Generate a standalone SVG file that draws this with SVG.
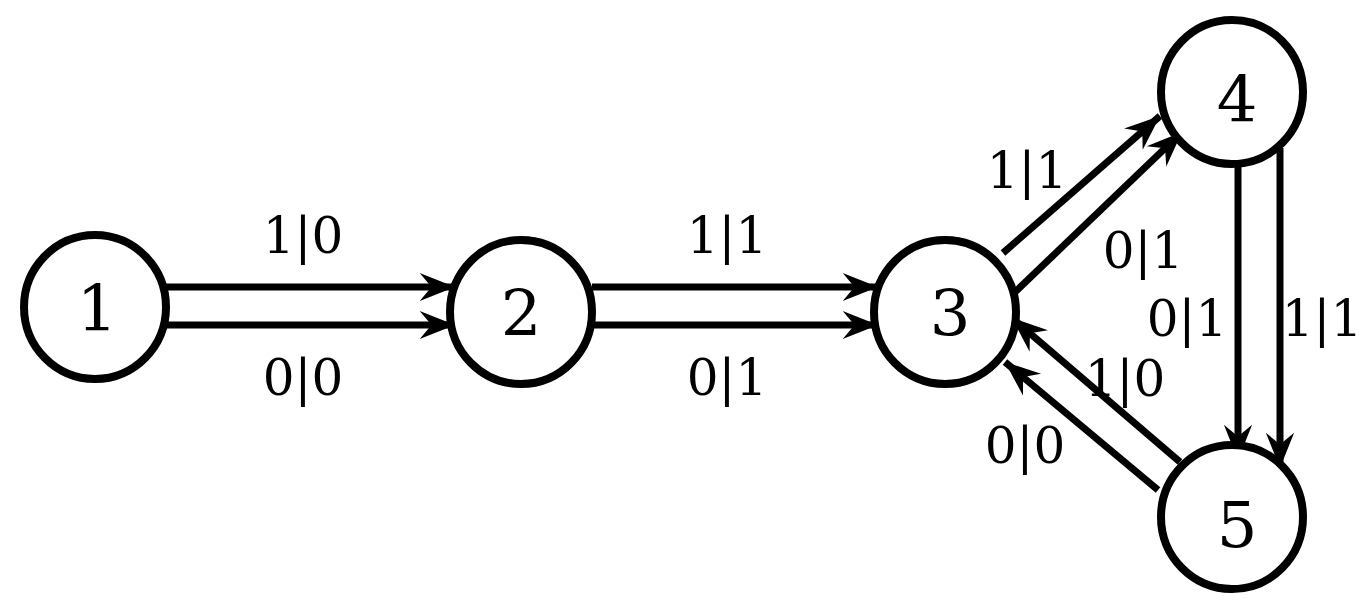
<svg xmlns="http://www.w3.org/2000/svg" width="1372" height="614" viewBox="0 0 1372 614">
<style>
.n{fill:#fff;stroke:#000;stroke-width:8}
.nt{font-family:"DejaVu Serif",serif;font-size:64px;text-anchor:middle;fill:#000}
.e{stroke:#000;stroke-width:7;fill:none;marker-end:url(#a)}
.l{font-family:"DejaVu Serif",serif;font-size:50px;text-anchor:middle;fill:#000}
</style>
<defs><marker id="a" markerUnits="userSpaceOnUse" markerWidth="40" markerHeight="40" viewBox="-30 -15 34 30" refX="2" refY="0" orient="auto"><path d="M2,0 L-28,-12 L-18,0 L-28,12 Z" fill="#000"/></marker></defs>
<rect width="1372" height="614" fill="#fff"/>
<g id="edges">
<line class="e" x1="166" y1="287" x2="455" y2="287"/>
<line class="e" x1="166" y1="325" x2="455" y2="325"/>
<line class="e" x1="592" y1="287" x2="878" y2="287"/>
<line class="e" x1="592" y1="325" x2="878" y2="325"/>
<line class="e" x1="1003" y1="253" x2="1160" y2="116"/>
<line class="e" x1="1012" y1="295" x2="1182" y2="132"/>
<line class="e" x1="1238" y1="155" x2="1238" y2="460"/>
<line class="e" x1="1280" y1="148" x2="1280" y2="468"/>
<line class="e" x1="1180" y1="462" x2="1012" y2="318"/>
<line class="e" x1="1158" y1="490" x2="1005" y2="362"/>
<text class="l" x="303" y="253">1|0</text>
<text class="l" x="303" y="395">0|0</text>
<text class="l" x="727" y="253">1|1</text>
<text class="l" x="727" y="395">0|1</text>
<text class="l" x="1027" y="188">1|1</text>
<text class="l" x="1143" y="268">0|1</text>
<text class="l" x="1187" y="336">0|1</text>
<text class="l" x="1322" y="336">1|1</text>
<text class="l" x="1125" y="396">1|0</text>
<text class="l" x="1025" y="463">0|0</text>
</g>
<g id="n1"><ellipse class="n" cx="95" cy="307" rx="71" ry="72"/><text class="nt" x="97" y="331">1</text></g>
<g id="n2"><ellipse class="n" cx="521" cy="312" rx="71" ry="72"/><text class="nt" x="521" y="336">2</text></g>
<g id="n3"><ellipse class="n" cx="945" cy="312" rx="71" ry="72"/><text class="nt" x="950" y="336">3</text></g>
<g id="n4"><ellipse class="n" cx="1232" cy="92" rx="71" ry="72"/><text class="nt" x="1237" y="122">4</text></g>
<g id="n5"><ellipse class="n" cx="1232" cy="517" rx="71" ry="72"/><text class="nt" x="1237" y="547">5</text></g>
</svg>
